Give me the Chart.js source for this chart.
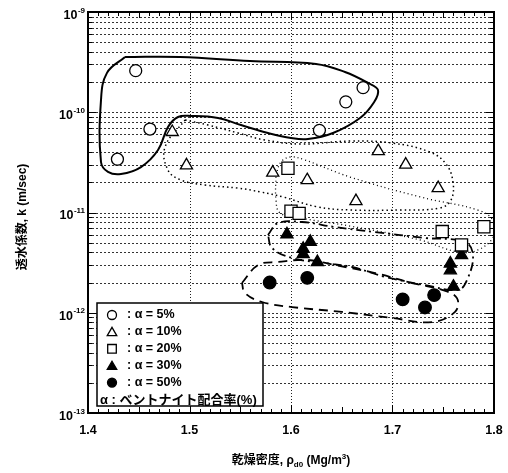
<!DOCTYPE html>
<html>
<head>
<meta charset="utf-8">
<script src="https://cdn.jsdelivr.net/npm/chart.js@4.4.1/dist/chart.umd.min.js"></script>
<style>
  html, body { margin: 0; padding: 0; background: #fff; }
</style>
</head>
<body>
<canvas id="chart" width="508" height="473"></canvas>
<script>
// measured points: dry density (Mg/m3) and permeability k (m/sec)
const rho5 = [1.447, 1.461, 1.429, 1.671, 1.654, 1.628];
const k5 = [2.6e-10, 6.8e-11, 3.4e-11, 1.76e-10, 1.27e-10, 6.6e-11];

const rho10 = [1.483, 1.497, 1.582, 1.616, 1.664, 1.686, 1.713, 1.745];
const k10 = [6.35e-11, 2.95e-11, 2.5e-11, 2.1e-11, 1.3e-11, 4.1e-11, 3.0e-11, 1.75e-11];

const rho20 = [1.597, 1.600, 1.608, 1.749, 1.790, 1.768];
const k20 = [2.76e-11, 1.03e-11, 9.8e-12, 6.45e-12, 7.2e-12, 4.75e-12];

const rho30 = [1.596, 1.619, 1.612, 1.612, 1.626, 1.768, 1.768, 1.757, 1.757, 1.760];
const k30 = [6.05e-12, 5.1e-12, 4.35e-12, 3.85e-12, 3.2e-12, 4.5e-12, 3.75e-12, 3.1e-12, 2.65e-12, 1.82e-12];

const rho50 = [1.579, 1.616, 1.710, 1.732, 1.741];
const k50 = [2.0e-12, 2.23e-12, 1.36e-12, 1.13e-12, 1.5e-12];

// hand-drawn envelopes round each group (closed loops)
const env5x = [1.4365, 1.4906, 1.5596, 1.6246, 1.6532, 1.6759, 1.6857, 1.6818, 1.6680, 1.6414, 1.6167, 1.6000, 1.5773, 1.5507, 1.5281, 1.5015, 1.4887, 1.4788, 1.4690, 1.4522, 1.4325, 1.4197, 1.4128, 1.4128, 1.4187, 1.4365];
const env5k = [3.56e-10, 3.56e-10, 3.24e-10, 3.03e-10, 2.52e-10, 1.96e-10, 1.67e-10, 1.26e-10, 8.77e-11, 6.21e-11, 5.41e-11, 5.53e-11, 6.21e-11, 7.46e-11, 8.77e-11, 9.18e-11, 8.97e-11, 7.13e-11, 4.2e-11, 2.84e-11, 2.42e-11, 2.54e-11, 3.19e-11, 1.32e-10, 2.47e-10, 3.56e-10];

const env10x = [1.4956, 1.5182, 1.5478, 1.5744, 1.6099, 1.6581, 1.6995, 1.7369, 1.7527, 1.7596, 1.7576, 1.7468, 1.7074, 1.6581, 1.6256, 1.5921, 1.5704, 1.5478, 1.5153, 1.4916, 1.4788, 1.4759, 1.4956];
const env10k = [8.37e-11, 7.46e-11, 6.21e-11, 5.28e-11, 4.82e-11, 5.16e-11, 4.93e-11, 4.01e-11, 3.05e-11, 2.01e-11, 1.33e-11, 1.11e-11, 1.06e-11, 1.06e-11, 1.14e-11, 1.43e-11, 1.6e-11, 1.75e-11, 1.88e-11, 2.11e-11, 2.65e-11, 4.5e-11, 8.37e-11];

const env20x = [1.5852, 1.5901, 1.6000, 1.6138, 1.6581, 1.7271, 1.7862, 1.8000, 1.8000, 1.7842, 1.7645, 1.7271, 1.6581, 1.6089, 1.5892, 1.5852, 1.5852];
const env20k = [2.37e-11, 3.19e-11, 3.58e-11, 3.34e-11, 2.26e-11, 1.43e-11, 1.04e-11, 8.04e-12, 5.83e-12, 4.23e-12, 4.04e-12, 5.32e-12, 7.33e-12, 8.81e-12, 9.89e-12, 1.33e-11, 2.37e-11];

const env30x = [1.5773, 1.5872, 1.6108, 1.6433, 1.6828, 1.7320, 1.7714, 1.7793, 1.7734, 1.7645, 1.7320, 1.6926, 1.6601, 1.6335, 1.6010, 1.5813, 1.5773];
const env30k = [5.97e-12, 7.85e-12, 8.04e-12, 7.16e-12, 6.38e-12, 5.57e-12, 5.08e-12, 3.77e-12, 2.12e-12, 1.69e-12, 1.89e-12, 2.28e-12, 2.86e-12, 3.13e-12, 3.52e-12, 4.43e-12, 5.97e-12];

const env50x = [1.5517, 1.5675, 1.5872, 1.6167, 1.6433, 1.6828, 1.7192, 1.7488, 1.7635, 1.7616, 1.7389, 1.6995, 1.6502, 1.6010, 1.5714, 1.5547, 1.5517];
const env50k = [1.98e-12, 2.99e-12, 3.21e-12, 3.36e-12, 2.99e-12, 2.49e-12, 1.98e-12, 1.69e-12, 1.4e-12, 1.02e-12, 8.08e-13, 8.87e-13, 1.02e-12, 1.14e-12, 1.28e-12, 1.57e-12, 1.98e-12];

const xTicks = [1.4, 1.5, 1.6, 1.7, 1.8];
const decades = [-13, -12, -11, -10, -9];
const legendRows = [
  { shape: 'circle', filled: false, text: ': α = 5%' },
  { shape: 'triangle', filled: false, text: ': α = 10%' },
  { shape: 'rect', filled: false, text: ': α = 20%' },
  { shape: 'triangle', filled: true, text: ': α = 30%' },
  { shape: 'circle', filled: true, text: ': α = 50%' }
];
const legendNote = 'α : ベントナイト配合率(%)';

const FONT = '"Liberation Sans", Arial, "Noto Sans CJK JP", sans-serif';
const pts = (xs, ys) => xs.map((x, i) => ({ x: x, y: ys[i] }));

function markers(xs, ys, style, r, filled) {
  return {
    data: pts(xs, ys),
    showLine: false,
    pointStyle: style,
    pointRadius: r,
    pointBackgroundColor: filled ? '#000' : '#fff',
    pointBorderColor: '#000',
    pointBorderWidth: 1.3,
    order: 0
  };
}

function envelope(xs, ys, width, dash) {
  return {
    data: pts(xs, ys),
    showLine: true,
    pointRadius: 0,
    borderColor: '#000',
    borderWidth: width,
    borderDash: dash,
    tension: 0.4,
    fill: false,
    order: 5
  };
}

function drawShape(ctx, shape, x, y, r, filled) {
  ctx.beginPath();
  if (shape === 'circle') {
    ctx.arc(x, y, r, 0, Math.PI * 2);
  } else if (shape === 'triangle') {
    ctx.moveTo(x, y - r);
    ctx.lineTo(x + r * 0.866, y + r * 0.5);
    ctx.lineTo(x - r * 0.866, y + r * 0.5);
    ctx.closePath();
  } else {
    ctx.rect(x - r, y - r, 2 * r, 2 * r);
  }
  ctx.fillStyle = filled ? '#000' : '#fff';
  ctx.fill();
  ctx.lineWidth = 1.3;
  ctx.strokeStyle = '#000';
  ctx.stroke();
}

// draws a row of text pieces (for sub/superscripts), centred on cx
function drawRuns(ctx, runs, cx, baseline) {
  let total = 0;
  runs.forEach(r => { ctx.font = r.font; total += ctx.measureText(r.t).width; });
  let xPos = cx - total / 2;
  ctx.textAlign = 'left';
  ctx.textBaseline = 'alphabetic';
  runs.forEach(r => {
    ctx.font = r.font;
    ctx.fillText(r.t, xPos, baseline + (r.dy || 0));
    xPos += ctx.measureText(r.t).width;
  });
}

const decorations = {
  id: 'decorations',
  beforeDatasetsDraw(chart) {
    const { ctx, chartArea: a, scales: { x, y } } = chart;
    ctx.save();
    ctx.lineWidth = 1;
    ctx.strokeStyle = '#333';
    ctx.setLineDash([2, 2]);
    for (let e = -13; e < -9; e++) {
      for (let m = 1; m <= 9; m++) {
        if (e === -13 && m === 1) continue;
        const py = Math.round(y.getPixelForValue(m * Math.pow(10, e))) + 0.5;
        ctx.beginPath();
        ctx.moveTo(a.left, py);
        ctx.lineTo(a.right, py);
        ctx.stroke();
      }
    }
    ctx.setLineDash([1, 2]);
    ctx.strokeStyle = '#222';
    xTicks.slice(1, -1).forEach(v => {
      const px = Math.round(x.getPixelForValue(v)) + 0.5;
      ctx.beginPath();
      ctx.moveTo(px, a.top);
      ctx.lineTo(px, a.bottom);
      ctx.stroke();
    });
    ctx.restore();
  },
  afterDraw(chart) {
    const { ctx, chartArea: a, scales: { x, y } } = chart;
    ctx.save();
    ctx.fillStyle = '#000';
    ctx.strokeStyle = '#000';

    // tick marks, inward on all four sides
    ctx.lineWidth = 1;
    for (let i = 0; i <= 40; i++) {
      const px = Math.round(x.getPixelForValue(1.4 + i * 0.01)) + 0.5;
      const len = i % 10 === 0 ? 8 : (i % 5 === 0 ? 6 : 4);
      ctx.beginPath();
      ctx.moveTo(px, a.bottom); ctx.lineTo(px, a.bottom - len);
      ctx.moveTo(px, a.top); ctx.lineTo(px, a.top + len);
      ctx.stroke();
    }
    for (let e = -13; e <= -9; e++) {
      for (let m = 1; m <= 9; m++) {
        if (e === -9 && m > 1) break;
        const py = Math.round(y.getPixelForValue(m * Math.pow(10, e))) + 0.5;
        const len = m === 1 ? 8 : 4;
        ctx.beginPath();
        ctx.moveTo(a.left, py); ctx.lineTo(a.left + len, py);
        ctx.moveTo(a.right, py); ctx.lineTo(a.right - len, py);
        ctx.stroke();
      }
    }

    // frame
    ctx.lineWidth = 2;
    ctx.strokeRect(a.left, a.top, a.right - a.left, a.bottom - a.top);

    // x tick labels
    ctx.font = 'bold 12.5px ' + FONT;
    ctx.textAlign = 'center';
    ctx.textBaseline = 'middle';
    xTicks.forEach(v => ctx.fillText(v.toFixed(1), x.getPixelForValue(v), 431));

    // y tick labels 10^n
    decades.forEach(e => {
      const py = y.getPixelForValue(Math.pow(10, e));
      const sup = String(e);
      ctx.font = 'bold 8px ' + FONT;
      const sw = ctx.measureText(sup).width;
      ctx.textBaseline = 'middle';
      ctx.textAlign = 'left';
      ctx.fillText(sup, 85 - sw, py - 1.5);
      ctx.font = 'bold 12.5px ' + FONT;
      ctx.textAlign = 'right';
      ctx.fillText('10', 85 - sw - 0.5, py + 3.5);
    });

    // axis titles
    drawRuns(ctx, [
      { t: '乾燥密度, ρ', font: 'bold 12px ' + FONT },
      { t: 'd0', font: 'bold 8px ' + FONT, dy: 3 },
      { t: ' (Mg/m', font: 'bold 12px ' + FONT },
      { t: '3', font: 'bold 8px ' + FONT, dy: -5 },
      { t: ')', font: 'bold 12px ' + FONT }
    ], (a.left + a.right) / 2, 464);

    ctx.save();
    ctx.translate(22, 217);
    ctx.rotate(-Math.PI / 2);
    drawRuns(ctx, [{ t: '透水係数, k (m/sec)', font: 'bold 12px ' + FONT }], 0, 4);
    ctx.restore();

    // legend box
    const bx = a.left + 9, by = 303, bw = 166, bh = 103;
    ctx.fillStyle = '#fff';
    ctx.fillRect(bx, by, bw, bh);
    ctx.lineWidth = 1.5;
    ctx.strokeStyle = '#000';
    ctx.strokeRect(bx, by, bw, bh);
    legendRows.forEach((row, i) => {
      const ry = by + 12 + i * 16.9;
      const r = row.shape === 'triangle' ? 5.5 : (row.shape === 'rect' ? 4.3 : 4.5);
      drawShape(ctx, row.shape, bx + 15, ry + (row.shape === 'triangle' ? 1 : 0), r, row.filled);
      ctx.fillStyle = '#000';
      ctx.font = 'bold 12.5px ' + FONT;
      ctx.textAlign = 'left';
      ctx.textBaseline = 'middle';
      ctx.fillText(row.text, bx + 30, ry);
    });
    ctx.font = 'bold 13px ' + FONT;
    ctx.fillText(legendNote, bx + 3, by + 97);

    ctx.restore();
  }
};

new Chart(document.getElementById('chart'), {
  type: 'scatter',
  data: {
    datasets: [
      markers(rho5, k5, 'circle', 6, false),
      markers(rho10, k10, 'triangle', 7, false),
      markers(rho20, k20, 'rect', 8.6, false),
      markers(rho30, k30, 'triangle', 7, true),
      markers(rho50, k50, 'circle', 6.3, true),
      envelope(env5x, env5k, 2, []),
      envelope(env10x, env10k, 1.5, [1.5, 3]),
      envelope(env20x, env20k, 1.3, [1, 3]),
      envelope(env30x, env30k, 1.8, [9, 4, 2, 4]),
      envelope(env50x, env50k, 1.8, [9, 6])
    ]
  },
  options: {
    responsive: false,
    animation: false,
    events: [],
    devicePixelRatio: 1,
    layout: { autoPadding: false, padding: { left: 0, top: 12, right: 14, bottom: 0 } },
    plugins: { legend: { display: false }, tooltip: { enabled: false } },
    scales: {
      x: {
        type: 'linear', min: 1.4, max: 1.8,
        grid: { display: false }, border: { display: false },
        ticks: { display: false },
        afterFit: s => { s.height = 60; }
      },
      y: {
        type: 'logarithmic', min: 1e-13, max: 1e-9,
        grid: { display: false }, border: { display: false },
        ticks: { display: false },
        afterFit: s => { s.width = 88; }
      }
    }
  },
  plugins: [decorations]
});
</script>
</body>
</html>
